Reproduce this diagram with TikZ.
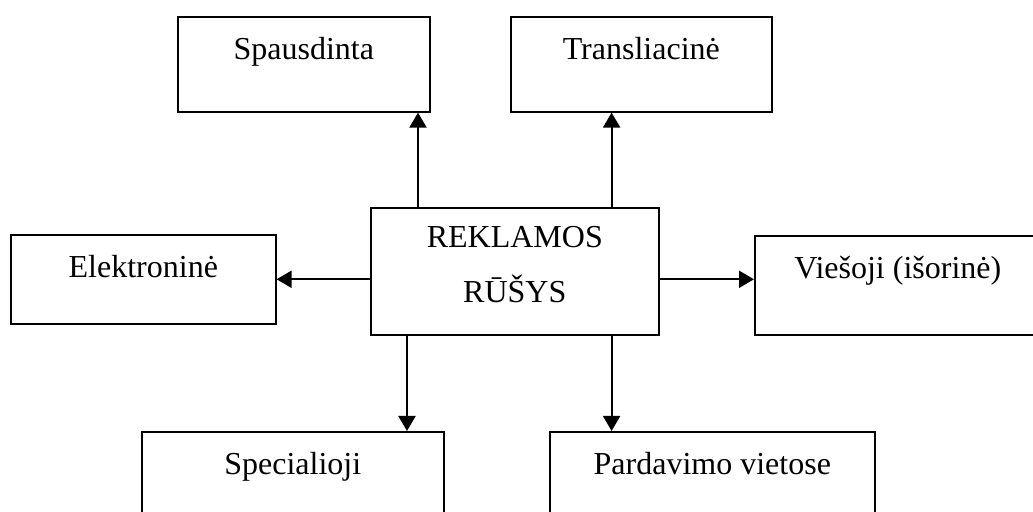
\documentclass[tikz,border=0pt]{standalone}
\usepackage{fontspec}
\setmainfont{Liberation Serif}
\usepackage{tikz}
\usetikzlibrary{arrows.meta, positioning}

\tikzset{
    rusis/.style={draw, line width=0.8pt, inner sep=0pt, anchor=north west,
        text height=21.5pt, text depth=26pt, font=\fontsize{16}{19}\selectfont},
    pagr/.style={draw, line width=0.8pt, inner sep=0pt, anchor=north west,
        minimum width=144pt, minimum height=63.5pt, align=center, text depth=7pt,
        font=\fontsize{16}{27.5}\selectfont},
    pil/.style={-{Triangle[length=7.5pt,width=8.5pt]}, line width=1pt}
}

\begin{document}
\begin{tikzpicture}[x=0.5pt, y=0.5pt]
    \useasboundingbox (0,0) rectangle (1033,512);
    \clip (0,0) rectangle (1033,512);

    % Center box
    \node[pagr] (reklama) at (370,305) {REKLAMOS\\R\=U\v{S}YS};

    % Types
    \node[rusis, minimum width=126pt] (spaus) at (177,496) {Spausdinta};
    \node[rusis, minimum width=130.5pt] (trans) at (510,496) {Transliacinė};
    \node[rusis, minimum width=132.5pt, text depth=23pt] (elek) at (10,278) {Elektroninė};
    \node[rusis, minimum width=143pt, text depth=28pt] (viesoji) at (754,277) {Viešoji (išorinė)};
    \node[rusis, minimum width=151pt] (spec) at (141,81) {Specialioji};
    \node[rusis, minimum width=162.5pt] (pard) at (549,81) {Pardavimo vietose};

    % Arrows up
    \draw[pil] ([xshift=24pt]reklama.north west) coordinate (a1) -- (a1 |- spaus.south);
    \draw[pil] ([xshift=-24pt]reklama.north east) coordinate (a2) -- (a2 |- trans.south);

    % Arrows to the sides
    \draw[pil] (reklama.west |- elek.east) -- (elek.east);
    \draw[pil] (reklama.east |- elek.east) -- (viesoji.west |- elek.east);

    % Arrows down
    \draw[pil] ([xshift=18.5pt]reklama.south west) coordinate (b1) -- (b1 |- spec.north);
    \draw[pil] ([xshift=-24pt]reklama.south east) coordinate (b2) -- (b2 |- pard.north);
\end{tikzpicture}
\end{document}
